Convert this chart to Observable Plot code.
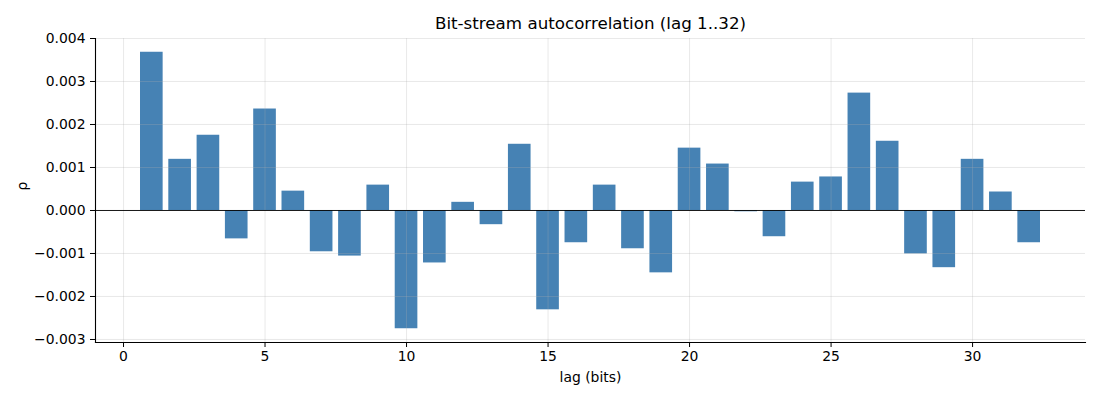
<!DOCTYPE html>
<html>
<head>
<meta charset="utf-8">
<script src="https://cdn.jsdelivr.net/npm/d3@7"></script>
<script src="https://cdn.jsdelivr.net/npm/@observablehq/plot@0.6"></script>
<style>
  html, body { margin: 0; padding: 0; background: #fff; }
</style>
</head>
<body>
<div id="chart"></div>
<script>
const lags = [1,2,3,4,5,6,7,8,9,10,11,12,13,14,15,16,17,18,19,20,21,22,23,24,25,26,27,28,29,30,31,32];
const rho = [0.00368, 0.00119, 0.00175, -0.00066, 0.00236, 0.00045, -0.00096, -0.00106,
             0.00059, -0.00275, -0.00122, 0.00019, -0.00033, 0.00154, -0.00231, -0.00075,
             0.00059, -0.00089, -0.00145, 0.00145, 0.00108, -0.00003, -0.00061, 0.00066,
             0.00078, 0.00273, 0.00161, -0.00101, -0.00133, 0.00119, 0.00043, -0.00075];
const xTicks = [0, 5, 10, 15, 20, 25, 30];
const yTicks = [-0.003, -0.002, -0.001, 0, 0.001, 0.002, 0.003, 0.004];
const title = "Bit-stream autocorrelation (lag 1..32)";
const xLabel = "lag (bits)";
const yLabel = "ρ";

const data = lags.map((l, i) => ({lag: l, rho: rho[i]}));
const barHalf = 0.4;

const chart = Plot.plot({
  width: 1100,
  height: 400,
  marginLeft: 95,
  marginRight: 15,
  marginTop: 38,
  marginBottom: 58,
  style: {fontFamily: "DejaVu Sans", fontSize: "13.9px", color: "#000", background: "#fff"},
  x: {domain: [-0.99, 33.99], label: null},
  y: {domain: [-0.00307, 0.0040], label: null},
  marks: [
    Plot.rectY(data, {x1: d => d.lag - barHalf, x2: d => d.lag + barHalf, y1: 0, y2: "rho", fill: "#4682b4"}),
    Plot.gridX(xTicks, {stroke: "#b0b0b0", strokeOpacity: 0.35, strokeWidth: 0.8}),
    Plot.gridY(yTicks, {stroke: "#b0b0b0", strokeOpacity: 0.35, strokeWidth: 0.8}),
    Plot.ruleY([0], {stroke: "#000", strokeWidth: 0.9}),
    Plot.frame({anchor: "left", stroke: "#000", strokeWidth: 1.1}),
    Plot.frame({anchor: "bottom", stroke: "#000", strokeWidth: 1.1}),
    Plot.axisX(xTicks, {tickSize: 5, tickPadding: 4, label: null, fontSize: 13.9}),
    Plot.axisY(yTicks, {tickSize: 5, tickPadding: 5, tickFormat: d3.format(".3f"), label: null, fontSize: 13.9}),
    Plot.text([title], {frameAnchor: "top", lineAnchor: "middle", dy: -15, fontSize: 16.7, fill: "#000"}),
    Plot.text([xLabel], {frameAnchor: "bottom", lineAnchor: "middle", dy: 35, fontSize: 13.9, fill: "#000"}),
    Plot.text([yLabel], {frameAnchor: "left", lineAnchor: "middle", dx: -73, rotate: -90, fontSize: 13.9, fill: "#000"})
  ]
});
document.getElementById("chart").appendChild(chart);
</script>
</body>
</html>
